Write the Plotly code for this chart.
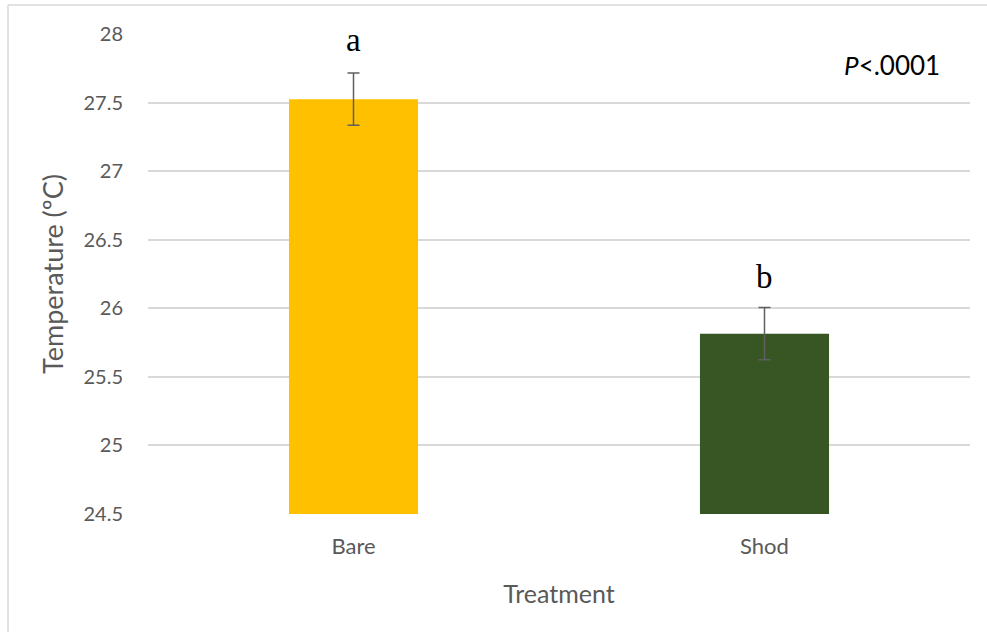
import plotly.graph_objects as go

categories = ["Bare", "Shod"]
means = [27.525, 25.815]
errors = [0.19, 0.19]
letters = ["a", "b"]
letter_shift = [33, 31]
colors = ["#FFC000", "#375623"]
y_ticks = [24.5, 25, 25.5, 26, 26.5, 27, 27.5, 28]
y_tick_text = ["24.5", "25", "25.5", "26", "26.5", "27", "27.5", "28"]

fig = go.Figure()
fig.add_trace(go.Bar(
    x=categories, y=[m - 24.5 for m in means], base=24.5,
    marker=dict(color=colors, line=dict(width=0)),
    width=0.314,
    error_y=dict(type="data", array=errors, visible=True,
                 color="#5f5f5f", thickness=1.5, width=6),
    hoverinfo="skip",
))

for c, m, e, l, s in zip(categories, means, errors, letters, letter_shift):
    fig.add_annotation(x=c, y=m + e, text=l, showarrow=False, yanchor="middle",
                       yshift=s, font=dict(family="Liberation Serif", size=33, color="#000000"))

fig.add_annotation(xref="paper", yref="paper", x=0.966, y=0.935, xanchor="right", yanchor="middle",
                   text="<i>P</i>&lt;.0001", showarrow=False,
                   font=dict(family="Lato", size=26, color="#000000"))

# outer chart-area border (top and left visible)
fig.add_shape(type="line", xref="paper", yref="paper", x0=-0.1703, x1=1.05, y0=1.0604, y1=1.0604,
              line=dict(color="#D9D9D9", width=1.5))
fig.add_shape(type="line", xref="paper", yref="paper", x0=-0.1703, x1=-0.1703, y0=1.0604, y1=-0.3,
              line=dict(color="#D9D9D9", width=1.5))

fig.update_layout(
    width=987, height=632,
    margin=dict(l=148, r=17, t=34, b=118),
    paper_bgcolor="white", plot_bgcolor="white",
    showlegend=False,
    font=dict(family="Lato", color="#595959"),
    xaxis=dict(title=dict(text="Treatment", font=dict(size=25, color="#595959"), standoff=27),
               tickfont=dict(size=22, color="#595959"), showgrid=False, showline=False,
               ticks="outside", ticklen=13, tickcolor="rgba(0,0,0,0)"),
    yaxis=dict(title=dict(text="Temperature (ºC)", font=dict(size=27, color="#595959"), standoff=12),
               range=[24.5, 28], tickvals=y_ticks, ticktext=y_tick_text,
               tickfont=dict(size=20, color="#595959"), showgrid=True, gridcolor="#D9D9D9",
               gridwidth=1.5, zeroline=False, showline=False, ticks="outside", ticklen=20,
               tickcolor="rgba(0,0,0,0)"),
)

fig.write_html("out.html", config={"displayModeBar": False},
               post_script="document.body.style.margin='0';")
